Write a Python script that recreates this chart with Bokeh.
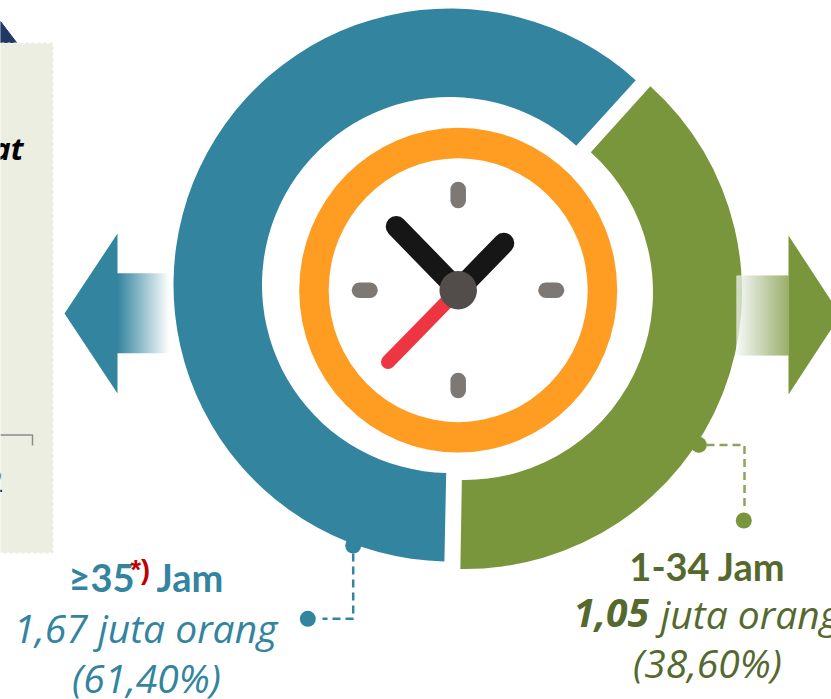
from math import radians
from bokeh.plotting import figure
from bokeh.models import Range1d
from bokeh.core.properties import value
from bokeh.embed import file_html
from bokeh.resources import INLINE

# data
categories = ["≥35 Jam", "1-34 Jam"]
shares = [61.40, 38.60]
millions = ["1,67", "1,05"]
shares_txt = ["(61,40%)", "(38,60%)"]
colors = ["#33849F", "#7A963C"]
dark_green = "#55692F"

W, H = 831, 699
def Y(v):
    return H - v

p = figure(width=W, height=H, x_range=Range1d(0, W), y_range=Range1d(0, H),
           output_backend="svg", toolbar_location=None, min_border=0,
           background_fill_color="white", border_fill_color="white", outline_line_color=None)
p.axis.visible = False
p.grid.visible = False

def rgb_lerp(a, b, t):
    ca = [int(a[i:i + 2], 16) for i in (1, 3, 5)]
    cb = [int(b[i:i + 2], 16) for i in (1, 3, 5)]
    return "#%02x%02x%02x" % tuple(round(x + (y - x) * t) for x, y in zip(ca, cb))

def txt(x, y, s, font, style, size, color, align="left"):
    # the baseline offset below keeps y at the glyphs' visual baseline
    p.text([x], [Y(y - 0.39 * size)], text=[s], text_font=value(font), text_font_style=style,
           text_font_size=f"{size}px", text_align=align, text_baseline="alphabetic", text_color=color)

# left panel
p.patch([0, 16, 0], [Y(21), Y(42), Y(42)], color="#1F3864")
p.quad(left=[-5], right=[52], top=[Y(43)], bottom=[Y(552)], fill_color="#EBEEE0",
       line_color="#EBEEE0", line_width=2, line_dash="3 3")
p.line([0, 32, 32], [Y(434.5), Y(434.5), Y(445)], line_color="#8C8C8C", line_width=1.5)
txt(23, 160, "at", "Open Sans", "bold italic", 31, "#000000", "right")
txt(3, 493, "2", "Open Sans", "normal", 31, "#000000", "right")

# donut: each slice is offset from the other; angles come from the shares
start0 = 47.8
span0 = shares[0] * 3.6
span1 = shares[1] * 3.6
p.annular_wedge([449.5], [Y(284.5)], inner_radius=188, outer_radius=276.5,
                start_angle=radians(start0), end_angle=radians(start0 + span0),
                fill_color=colors[0], line_color=None)
p.annular_wedge([464.5], [Y(291.5)], inner_radius=188, outer_radius=277,
                start_angle=radians(48 - span1), end_angle=radians(48),
                fill_color=colors[1], line_color=None)

# gradient arrows
n = 53
p.quad(left=[116.5 + i for i in range(n)], right=[117.5 + i for i in range(n)],
       top=[Y(272.7)] * n, bottom=[Y(352.7)] * n,
       fill_color=[rgb_lerp(colors[0], "#FFFFFF", i / (n - 1)) for i in range(n)], line_color=None)
p.patch([64, 117, 117], [Y(313), Y(233), Y(393)], color=colors[0], line_color=None)
n = 52
p.quad(left=[736 + i for i in range(n)], right=[737 + i for i in range(n)],
       top=[Y(275)] * n, bottom=[Y(355)] * n,
       fill_color=[rgb_lerp("#F2F6F5", colors[1], i / (n - 1)) for i in range(n)], line_color=None)
p.patch([788, 840, 788], [Y(235), Y(314.5), Y(394)], color=colors[1], line_color=None)

# clock
cx, cy = 457.7, 289.7
p.ellipse([cx], [Y(cy)], width=318, height=325, fill_color="#FF9D23", line_color=None)
p.ellipse([cx], [Y(cy)], width=259, height=264, fill_color="#FFFFFF", line_color=None)
for xs, ys in [([cx, cx], [189, 200]), ([cx, cx], [380, 390]),
               ([359, 369.5], [cy, cy]), ([545.5, 556], [cy, cy])]:
    p.line(xs, [Y(v) for v in ys], line_color="#7D7873", line_width=15.5, line_cap="round")
p.line([cx, 387.5], [Y(cy), Y(361.5)], line_color="#EE3642", line_width=14, line_cap="round")
p.line([cx, 395.7], [Y(cy), Y(226)], line_color="#161616", line_width=21, line_cap="round")
p.line([cx, 503.3], [Y(cy), Y(242.7)], line_color="#161616", line_width=21, line_cap="round")
p.ellipse([cx], [Y(cy)], width=37.5, height=38.5, fill_color="#524D4A", line_color=None)

# leaders
p.line([352.7, 352.7, 322], [Y(553), Y(618.3), Y(618.3)], line_color=colors[0], line_width=2.5, line_dash="8 5")
p.ellipse([352.7, 307.3], [Y(545), Y(618.3)], width=16, height=16, fill_color=colors[0], line_color=None)
p.line([706, 744, 744], [Y(444.5), Y(444.5), Y(506)], line_color="#8CA55B", line_width=2.5, line_dash="8 5")
p.ellipse([698.3, 743.3], [Y(444.3), Y(520)], width=16, height=16, fill_color=colors[1], line_color=None)

# labels
txt(68, 591, "≥35", "Lato", "bold", 38, colors[0])
txt(130, 580, "*)", "Liberation Sans", "bold", 27, "#C00000")
txt(156, 591, "Jam", "Lato", "bold", 38, colors[0])
txt(145, 642, millions[0] + " juta orang", "Open Sans", "italic", 39, colors[0], "center")
txt(146, 692, shares_txt[0], "Open Sans", "italic", 39, colors[0], "center")

txt(707, 580, categories[1], "Lato", "bold", 38, dark_green, "center")
txt(573, 628, millions[1], "Open Sans", "bold italic", 39, dark_green)
txt(660, 628, "juta orang", "Open Sans", "italic", 39, dark_green)
txt(707, 677, shares_txt[1], "Open Sans", "italic", 39, dark_green, "center")

open("out.html", "w").write(file_html(p, INLINE))
